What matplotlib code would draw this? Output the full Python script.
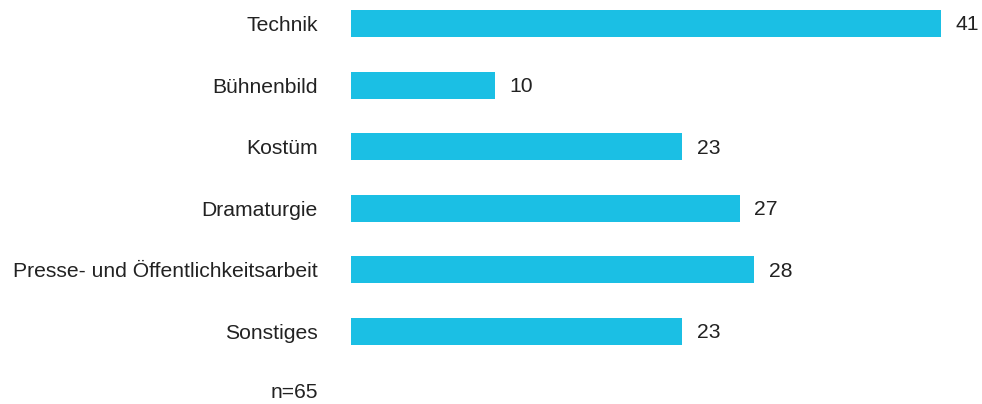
import matplotlib
matplotlib.use("Agg")
import matplotlib.pyplot as plt

categories = ["Technik", "Bühnenbild", "Kostüm", "Dramaturgie",
              "Presse- und Öffentlichkeitsarbeit", "Sonstiges"]
values = [41, 10, 23, 27, 28, 23]
note = "n=65"

plt.rcParams['font.family'] = ['Liberation Sans', 'DejaVu Sans']

W, H = 982, 404
fig = plt.figure(figsize=(W / 100, H / 100), dpi=100)
left_px = 351
ax = fig.add_axes([left_px / W, 0, 1 - left_px / W, 1])

px_per_unit = (941 - 351) / 41
spacing = 61.6
ax.set_xlim(0, (W - left_px) / px_per_unit)
ax.set_ylim((H - 23.5) / spacing, -23.5 / spacing)

fs = 15.2
ypos = list(range(len(categories)))
bars = ax.barh(ypos, values, height=27 / spacing, color="#1bbfe4")

for y, v in zip(ypos, values):
    ax.annotate(str(v), xy=(v, y), xytext=(10.5, -1), textcoords="offset points",
                ha="left", va="center", fontsize=fs, color="#222222")

ax.set_yticks(ypos)
ax.set_yticklabels(categories, fontsize=fs, color="#222222")
ax.tick_params(axis="y", length=0, pad=23.8)
ax.set_xticks([])
for s in ax.spines.values():
    s.set_visible(False)

fig.text(318 / W, 1 - 393 / H, note, ha="right", va="center",
         fontsize=fs, color="#222222")

fig.savefig("out.png", dpi=100)
